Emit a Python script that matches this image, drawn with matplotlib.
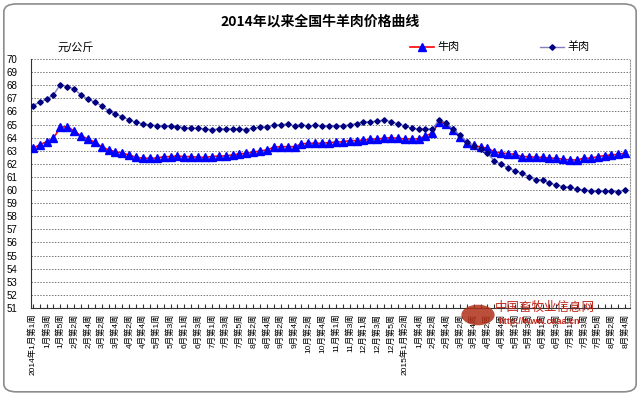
import matplotlib
matplotlib.use("Agg")
import matplotlib.pyplot as plt
from matplotlib.patches import FancyBboxPatch, Circle
from matplotlib.lines import Line2D

plt.rcParams['font.family'] = ['Liberation Sans', 'Noto Sans CJK SC', 'DejaVu Sans']

# weekly prices, 2014 week 1 .. 2015 Aug week 4 (87 weeks)
beef = [63.19, 63.44, 63.69, 63.95, 64.79, 64.84, 64.51, 64.15, 63.90, 63.65,
        63.31, 63.06, 62.93, 62.81, 62.68, 62.50, 62.43, 62.43, 62.43, 62.55,
        62.55, 62.60, 62.55, 62.55, 62.50, 62.50, 62.55, 62.60, 62.60, 62.68,
        62.76, 62.81, 62.89, 62.98, 63.06, 63.27, 63.31, 63.31, 63.31, 63.52,
        63.57, 63.57, 63.57, 63.62, 63.65, 63.69, 63.77, 63.77, 63.82, 63.87,
        63.90, 63.95, 64.00, 63.95, 63.90, 63.90, 63.90, 64.13, 64.34, 65.22,
        65.05, 64.59, 64.03, 63.57, 63.44, 63.27, 63.19, 62.93, 62.81, 62.78,
        62.73, 62.55, 62.55, 62.50, 62.50, 62.43, 62.43, 62.35, 62.30, 62.30,
        62.43, 62.43, 62.55, 62.63, 62.68, 62.73, 62.81]

mutton = [66.44, 66.70, 66.93, 67.26, 68.05, 67.90, 67.72, 67.26, 66.95, 66.70,
          66.44, 66.04, 65.79, 65.60, 65.35, 65.17, 65.05, 64.97, 64.92, 64.92,
          64.90, 64.84, 64.76, 64.72, 64.72, 64.66, 64.61, 64.66, 64.66, 64.66,
          64.66, 64.61, 64.74, 64.79, 64.84, 64.94, 64.99, 65.02, 64.89, 64.99,
          64.89, 64.94, 64.92, 64.92, 64.92, 64.92, 64.97, 65.07, 65.20, 65.20,
          65.27, 65.33, 65.22, 65.05, 64.89, 64.72, 64.64, 64.66, 64.66, 65.35,
          65.15, 64.64, 64.20, 63.70, 63.37, 63.11, 62.81, 62.22, 61.97, 61.66,
          61.48, 61.28, 61.02, 60.77, 60.77, 60.52, 60.39, 60.26, 60.21, 60.06,
          60.00, 59.95, 59.93, 59.93, 59.93, 59.88, 60.00]

# labels shown on every other week
week_labels = ["2014年1月第1周", "1月第3周", "1月第5周", "2月第2周", "2月第4周",
               "3月第2周", "3月第4周", "4月第2周", "4月第4周", "5月第1周",
               "5月第3周", "6月第1周", "6月第3周", "7月第1周", "7月第3周",
               "7月第5周", "8月第2周", "8月第4周", "9月第2周", "9月第4周",
               "10月第2周", "10月第4周", "11月第1周", "11月第3周", "12月第1周",
               "12月第3周", "12月第5周", "2015年1月第2周", "1月第4周", "2月第2周",
               "2月第4周", "3月第2周", "3月第4周", "4月第2周", "4月第4周",
               "5月第1周", "5月第3周", "6月第1周", "6月第3周", "7月第1周",
               "7月第3周", "7月第5周", "8月第2周", "8月第4周"]

x = list(range(len(beef)))

fig = plt.figure(figsize=(6.4, 3.95), dpi=100)
ax = fig.add_axes([31/640, 1 - 308/395, 599/640, 249/395])

# chart border
fig.patches.append(FancyBboxPatch((0.006, 0.008), 0.988, 0.982,
                                  boxstyle="round,pad=0,rounding_size=0.02",
                                  transform=fig.transFigure, fill=False,
                                  edgecolor="#8c8c8c", linewidth=1.2))

ax.plot(x, beef, color="#ff0000", linewidth=1.2, marker="^", markersize=6,
        markerfacecolor="#0000ff", markeredgecolor="#0000ff", zorder=3)
ax.plot(x, mutton, color="#8080c0", linewidth=1.0, marker="D", markersize=2.8,
        markerfacecolor="#000080", markeredgecolor="#000080", zorder=3)

ax.set_xlim(-0.25, 86.7)
ax.set_ylim(51, 70)
ax.set_yticks(range(51, 71))
for v in range(52, 71):
    ax.axhline(v, color="#777777", linestyle=(0, (1.5, 1.5)), linewidth=0.7, zorder=1)

ax.set_xticks(x)
ax.set_xticklabels([week_labels[i // 2] if i % 2 == 0 else "" for i in x],
                   rotation=90, fontsize=6, va="top", ha="center")
ax.tick_params(axis="x", direction="in", length=3, width=0.8, color="#333333", pad=4)
ax.tick_params(axis="y", length=0, labelsize=7, pad=10)

ax.spines["top"].set_visible(False)
ax.spines["right"].set_linestyle((0, (1, 1.5)))
ax.spines["right"].set_color("#999999")
ax.spines["left"].set_color("#333333")
ax.spines["bottom"].set_color("#333333")

fig.text(0.5, 1 - 22/395, "2014年以来全国牛羊肉价格曲线", ha="center", va="center",
         fontsize=10, fontweight="bold", family=['Noto Sans CJK SC', 'DejaVu Sans'])
fig.text(57/640, 1 - 47/395, "元/公斤", ha="left", va="center", fontsize=8)

# legend
handles = [Line2D([], [], color="#ff0000", linewidth=1.2, marker="^", markersize=6,
                  markerfacecolor="#0000ff", markeredgecolor="#0000ff"),
           Line2D([], [], color="#8080c0", linewidth=1.0, marker="D", markersize=2.8,
                  markerfacecolor="#000080", markeredgecolor="#000080")]
fig.legend(handles, ["牛肉", "羊肉"], loc="center", ncol=2, frameon=False,
           bbox_to_anchor=(500/640, 1 - 47/395), fontsize=8, handlelength=2.2,
           handletextpad=0.3, columnspacing=7.2)

# watermark
fig.patches.append(Circle((478/640, 1 - 315/395), 0.026, transform=fig.transFigure,
                          facecolor="#b03018", edgecolor="none", alpha=0.85))
fig.text(495/640, 1 - 307/395, "中国畜牧业信息网", color="#c0281c", fontsize=9,
         ha="left", va="center", family=['Noto Sans CJK SC', 'DejaVu Sans'])
fig.text(498/640, 1 - 321/395, "http://www.caaa.cn", color="#c0281c", fontsize=6.5,
         ha="left", va="center", fontweight="bold")

fig.savefig("out.png", dpi=100)
